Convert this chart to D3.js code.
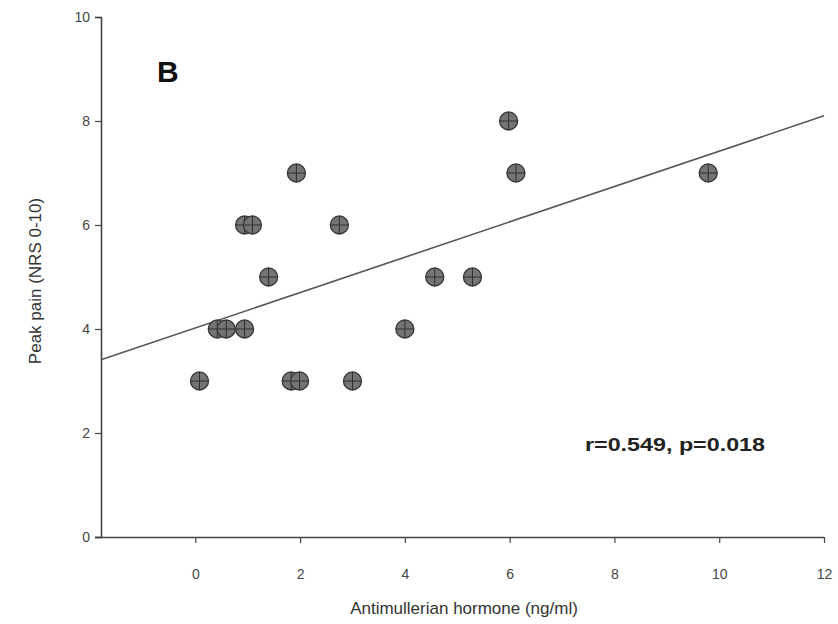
<!DOCTYPE html>
<html>
<head>
<meta charset="utf-8">
<script src="https://cdn.jsdelivr.net/npm/d3@7"></script>
<style>
  body { margin: 0; background: #fff; }
  text { font-family: "Liberation Sans", Arial, sans-serif; }
</style>
</head>
<body>
<div id="chart"></div>
<script>
// values
let amh  = [0.08, 0.42, 0.59, 0.94, 0.94, 1.09, 1.40, 1.93, 1.83, 1.99, 2.75, 3.00, 4.00, 4.57, 5.29, 5.98, 6.12, 9.79];
let pain = [3,    4,    4,    4,    6,    6,    5,    7,    3,    3,    6,    3,    4,    5,    5,    8,    7,    7];
let xTicks = [0, 2, 4, 6, 8, 10, 12];
let yTicks = [0, 2, 4, 6, 8, 10];
let fitIntercept = 4.02, fitSlope = 0.34;
let statLabel = 'r=0.549, p=0.018';
let panelLabel = 'B';

let W = 838, H = 624;
let svg = d3.select('#chart').append('svg')
  .attr('width', W).attr('height', H);

let x = d3.scaleLinear().domain([-1.8, 12]).range([101, 824]);
let y = d3.scaleLinear().domain([0, 10]).range([537, 17]);

let axisColor = '#444';

// x axis
let xg = svg.append('g')
  .attr('transform', 'translate(0,' + y(0) + ')')
  .call(d3.axisBottom(x).tickValues(xTicks).tickSizeOuter(0).tickSize(6).tickPadding(26));
xg.select('.domain').attr('d', 'M95,0.5H' + x(12));
// y axis
let yg = svg.append('g')
  .attr('transform', 'translate(' + x(-1.8) + ',0)')
  .call(d3.axisLeft(y).tickValues(yTicks).tickSizeOuter(0).tickSize(6).tickPadding(5));

svg.selectAll('.domain').attr('stroke', axisColor).attr('stroke-width', 1.6);
svg.selectAll('.tick line').attr('stroke', axisColor).attr('stroke-width', 1.2);
svg.selectAll('.tick text')
  .attr('fill', '#444')
  .style('font-size', '14px')
  .style('font-family', '"Liberation Sans", Arial, sans-serif');

// regression line
let x0 = x.domain()[0], x1 = x.domain()[1];
svg.append('line')
  .attr('x1', x(x0)).attr('y1', y(fitIntercept + fitSlope * x0))
  .attr('x2', x(x1)).attr('y2', y(fitIntercept + fitSlope * x1))
  .attr('stroke', '#555').attr('stroke-width', 1.6);

// points
let r = 9;
let pts = svg.append('g').selectAll('g')
  .data(amh.map((d, i) => [d, pain[i]]))
  .enter().append('g')
  .attr('transform', d => 'translate(' + x(d[0]) + ',' + y(d[1]) + ')');
pts.append('circle')
  .attr('r', r)
  .attr('fill', '#747474')
  .attr('stroke', '#3c3c3c')
  .attr('stroke-width', 1.4);
pts.append('path')
  .attr('d', 'M' + (-r) + ',0H' + r + 'M0,' + (-r) + 'V' + r)
  .attr('stroke', '#2e2e2e')
  .attr('stroke-width', 1);

// labels
svg.append('text')
  .attr('x', 157).attr('y', 82)
  .style('font-size', '30px').style('font-weight', 'bold')
  .attr('fill', '#111')
  .text(panelLabel);

svg.append('text')
  .attr('x', 585).attr('y', 451)
  .style('font-size', '18px').style('font-weight', 'bold')
  .attr('fill', '#222')
  .attr('textLength', 180).attr('lengthAdjust', 'spacingAndGlyphs')
  .text(statLabel);

svg.append('text')
  .attr('x', 464).attr('y', 614)
  .attr('text-anchor', 'middle')
  .style('font-size', '17px')
  .attr('fill', '#333')
  .text('Antimullerian hormone (ng/ml)');

svg.append('text')
  .attr('transform', 'translate(41,' + 281 + ') rotate(-90)')
  .attr('text-anchor', 'middle')
  .style('font-size', '17px')
  .attr('fill', '#333')
  .text('Peak pain (NRS 0-10)');
</script>
</body>
</html>
